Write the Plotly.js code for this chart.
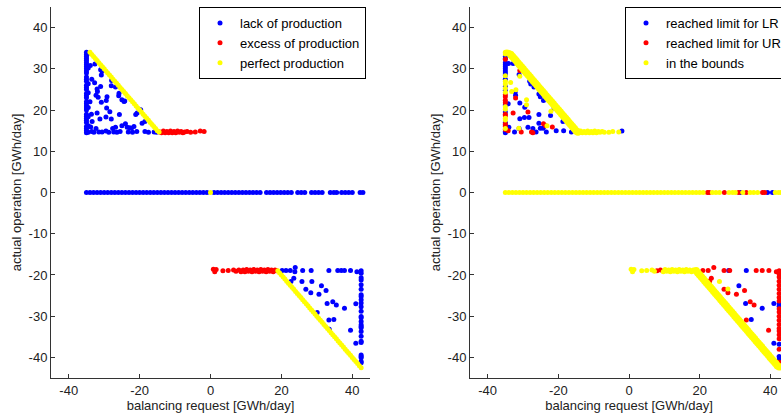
<!DOCTYPE html>
<html>
<head>
<meta charset="utf-8">
<script src="https://cdn.plot.ly/plotly-3.0.1.min.js"></script>
<style>
html, body { margin: 0; padding: 0; overflow: hidden; background: #fff; }
#chart { width: 800px; height: 413px; }
</style>
</head>
<body>
<div id="chart"></div>
<script>
// ---------- tick labels ----------
const xTickVals = [-40, -20, 0, 20, 40];
const xTickText = ['-40', '-20', '0', '20', '40'];
const yTickVals = [-40, -30, -20, -10, 0, 10, 20, 30, 40];
const yTickText = ['-40', '-30', '-20', '-10', '0', '10', '20', '30', '40'];

// ---------- series names ----------
const leftNames = ['lack of production', 'excess of production', 'perfect production'];
const rightNames = ['reached limit for LR', 'reached limit for UR', 'in the bounds'];

// ======== LEFT PANEL : [balancing request, actual operation] ========
// lack of production (blue)
const lackZero = [
  [-35,0],[-34,0],[-33,0],[-32,0],[-31,0],[-30,0],[-29,0],[-28,0],[-27,0],[-26,0],
  [-25,0],[-24,0],[-23,0],[-22,0],[-21,0],[-20,0],[-19,0],[-18,0],[-17,0],[-16,0],
  [-15,0],[-14,0],[-13,0],[-12,0],[-11,0],[-10,0],[-9,0],[-8,0],[-7,0],[-6,0],
  [-5,0],[-4,0],[-3,0],[-2,0],[-1,0],[1,0],[2,0],[3,0],[4,0],[5,0],
  [6,0],[7,0],[8,0],[9,0],[10,0],[11,0],[12,0],[13,0],[14,0],[15.8,0],
  [16.8,0],[17.8,0],[18.8,0],[19.8,0],[20.8,0],[21.8,0],[22.8,0],[24.6,0],[25.6,0],[26.6,0],
  [28.5,0],[29.5,0],[30.5,0],[31.5,0],[33.8,0],[34.8,0],[35.6,0],[37,0],[38,0],[39,0],
  [40,0],[42.2,0],[43,0]
];
const lackUpperColumn = [
  [-35,34],[-35,33.5],[-35,33],[-35,32.5],[-35,32],[-35,31.5],[-35,31],[-35,30.5],[-35,30],[-35,29.5],
  [-35,29],[-35,28],[-35,27.5],[-35,27],[-35,26],[-35,25.5],[-35,25],[-35,24],[-35,23.5],[-35,23],
  [-35,22],[-35,21.5],[-35,21],[-35,20.5],[-35,20],[-35,19],[-35,18.5],[-35,18],[-35,17.5],[-35,17],
  [-35,16],[-35,15.5],[-35,15],[-35,14.5],[-34.5,33.8],[-34.5,30.2],[-34.5,26.4],[-34.5,24.2],[-34.5,20.6],[-34.5,18.4],
  [-34.5,16.2]
];
const lackUpperScatter = [
  [-33.9,30.8],[-32.6,31.2],[-31,29.8],[-30.6,29.4],[-30.8,28.5],[-32.7,26.6],[-31,25.7],[-32,25.1],[-31.9,24.5],[-32.3,23.6],
  [-31.7,23.1],[-29.2,23.2],[-29.4,22.3],[-30.8,21.9],[-29.3,20.5],[-32,19.3],[-28.4,19.6],[-31.2,17.8],[-29.5,18.3],[-27.9,27.2],
  [-28,25.9],[-26.8,25.6],[-25.9,23.5],[-25,22.5],[-24.2,22.2],[-25.7,18.9],[-28,17.8],[-27.6,15.5],[-26.8,15.8],[-25,16.2],
  [-24,16.7],[-23.5,15.8],[-22.3,15.6],[-21.6,16],[-21.1,18.9],[-20.7,19.3],[-19.7,20.1],[-18.5,17.2],[-32.3,15.5],[-33.8,15.9],
  [-33.4,17.2],[-33.6,19],[-34,22],[-33.5,27.5],[-25.8,24.1],[-24.4,22.1],[-19.3,16.8],[-22.8,15.7]
];
const lackUpperBottom = [
  [-34.5,14.6],[-33.5,14.8],[-32.9,14.6],[-31.5,14.7],[-30.6,14.7],[-29.5,14.9],[-28.7,14.6],[-27.3,14.7],[-26.4,14.6],[-25.5,14.8],
  [-23.2,14.7],[-22,14.6],[-20.8,14.8],[-18.5,14.8],[-17.5,14.6],[-15.9,14.7],[-15.2,14.6]
];
const lackLowerScatter = [
  [20.2,-18.9],[21.3,-18.9],[22.5,-18.9],[23.8,-19.2],[23.9,-18.2],[26,-18.9],[28.4,-18.9],[33.4,-18.9],[35.9,-18.9],[36.9,-18.9],
  [37.8,-18.9],[39.5,-18.9],[41.3,-19.2],[23.5,-20.8],[22.7,-21.6],[25.8,-21.6],[28.6,-21.6],[26.9,-23.5],[28.3,-24.3],[31.3,-22.6],
  [30.6,-24.7],[32.6,-23.8],[32.9,-26.9],[34.5,-26.5],[35.5,-27.3],[37.8,-28.1],[41,-27],[30.1,-29.1],[33.4,-30.9],[34.8,-30.8],
  [39.5,-33.4],[41,-36.6],[33.5,-33.2]
];
const lackLowerColumn = [
  [42.5,-19],[42.5,-19.6],[42.5,-20.7],[42.5,-21.2],[42.5,-22.4],[42.5,-23.5],[42.5,-24.8],[42.5,-25.2],[42.5,-26],[42.5,-26.8],
  [42.5,-27.7],[42.5,-28.8],[42.5,-30.1],[42.5,-30.4],[42.5,-31.3],[42.5,-32.1],[42.5,-32.5],[42.5,-32.8],[42.5,-33.7],[42.5,-34.9],
  [42.5,-36.1],[42.5,-36.4],[42.5,-39.4],[42.5,-39.8],[42.5,-40.1],[42.5,-41],[42.5,-41.3]
];
// excess of production (red)
const excessUpper = [
  [-14.3,14.7],[-13.8,14.5],[-13.3,14.9],[-12.8,14.5],[-12.3,14.8],[-11.8,14.5],[-11.3,14.9],[-10.8,14.5],[-10.3,14.8],[-9.8,14.5],
  [-9.3,14.9],[-8.8,14.6],[-8.3,14.8],[-7.8,14.5],[-7.3,14.7],[-6.6,14.8],[-5.6,14.6],[-4.3,14.7],[-2.9,14.9],[-1.8,14.8]
];
const excessLower = [
  [0.8,-18.6],[1.2,-19.2],[1.6,-18.7],[3.5,-19],[5,-18.9],[6.5,-18.8],[7.2,-19.1],[8,-18.8],[8.6,-19.2],[9.2,-18.8],
  [9.7,-19.2],[10.2,-18.7],[10.7,-19.1],[11.2,-18.8],[11.7,-19.2],[12.2,-18.7],[12.7,-19.1],[13.2,-18.8],[13.7,-19.2],[14.2,-18.7],
  [14.7,-19.1],[15.2,-18.8],[15.7,-19.2],[16.2,-18.7],[16.7,-19.1],[17.2,-18.8],[17.7,-19.2],[18.2,-18.8],[18.7,-19]
];
// perfect production (yellow)
const perfectUpper = [
  [-34,34],[-33.5,33.5],[-33,33],[-32.5,32.5],[-32,32],[-31.5,31.5],[-31,31],[-30.5,30.5],[-30,30],[-29.5,29.5],
  [-29,29],[-28.5,28.5],[-28,28],[-27.5,27.5],[-27,27],[-26.5,26.5],[-26,26],[-25.5,25.5],[-25,25],[-24.5,24.5],
  [-24,24],[-23.5,23.5],[-23,23],[-22.5,22.5],[-22,22],[-21.5,21.5],[-21,21],[-20.5,20.5],[-20,20],[-19.5,19.5],
  [-19,19],[-18.5,18.5],[-18,18],[-17.5,17.5],[-17,17],[-16.5,16.5],[-16,16],[-15.5,15.5],[-15,15],[-14.5,14.7]
];
const perfectZero = [[0,0]];
const perfectLower = [
  [19,-19],[19.5,-19.5],[20,-20],[20.5,-20.5],[21,-21],[21.5,-21.5],[22,-22],[22.5,-22.5],[23,-23],[23.5,-23.5],
  [24,-24],[24.5,-24.5],[25,-25],[25.5,-25.5],[26,-26],[26.5,-26.5],[27,-27],[27.5,-27.5],[28,-28],[28.5,-28.5],
  [29,-29],[29.5,-29.5],[30,-30],[30.5,-30.5],[31,-31],[31.5,-31.5],[32,-32],[32.5,-32.5],[33,-33],[33.5,-33.5],
  [34,-34],[34.5,-34.5],[35,-35],[35.5,-35.5],[36,-36],[36.5,-36.5],[37,-37],[37.5,-37.5],[38,-38],[38.5,-38.5],
  [39,-39],[39.5,-39.5],[40,-40],[40.5,-40.5],[41,-41],[41.5,-41.5],[42,-42],[42.5,-42.5]
];

// ======== RIGHT PANEL ========
// reached limit for LR (blue)
const lrUpper = [
  [-35,33],[-35,32.5],[-35,31.5],[-35,31],[-35,30.5],[-35,30],[-35,29.5],[-35,29],[-35,28.5],[-35,27.5],
  [-35,25.7],[-35,24.8],[-35,21.2],[-35,19.5],[-35,17],[-35,16.4],[-35,14.8],[-35,14.5],
  [-32.8,31.3],[-34.1,31.3],[-31.1,28.6],[-32.2,24.4],[-32.1,23.6],[-30.9,21.7],[-34.2,21.5],[-29.5,20.7],[-28.1,27],[-27.8,26.3],
  [-26.9,25.6],[-25.5,23.9],[-25.1,23.2],[-24.2,22.3],[-30.9,17.9],[-29.6,18.2],[-28.3,18.2],[-25.5,18.9],[-22.2,18.7],[-21.2,20.5],
  [-18.7,17.2],[-34,15.8],[-32.4,14.7],[-31.1,15.5],[-28.6,15.8],[-27.2,15.5],[-26.3,14.7],[-25.5,16.8],[-25.1,15.6],[-24.3,15.6],
  [-23.4,14.7],[-20.6,15],[-18.5,15],[-16.3,14.7],[-2,14.9]
];
const lrZero = [[31.6,0],[39.2,0],[40.6,0]];
const lrLower = [
  [28.2,-18.9],[33.2,-18.9],[31.1,-22.6],[33,-26.9],[37.7,-28.1],[34.6,-30.8],[41,-26.9],[41,-36.6],
  [42.5,-19.3],[42.5,-27],[42.5,-27.6],[42.5,-36.8],[42.5,-39.8],[42.5,-40.6]
];
// reached limit for UR (red)
const urUpper = [
  [-35,32.3],[-35,23.7],[-35,23.2],[-35,22.4],[-35,21.8],[-35,19],[-35,18.6],[-35,16.6],[-35,16],[-35,15.3],
  [-30.9,29.6],[-32.1,22.9],[-32.8,19.3],[-28.6,19.5],[-30.5,14.7],[-27.6,14.7],[-24.2,16.7],[-23.6,16.2],[-21.7,15.9],[-34.2,15],
  [-27.2,14.5]
];
const urZero = [[22.2,0],[22.7,0],[27,0],[31,0],[33.2,0],[37.8,0],[38.4,0]];
const urLower = [
  [7.9,-19],[8.9,-18.8],[20.9,-18.9],[22.4,-18.9],[24,-18.2],[26.9,-18.9],[28.5,-18.9],[36,-18.9],[37.7,-18.9],[39.6,-18.9],
  [41.7,-19.2],[23.3,-20.8],[22.8,-21.5],[26.9,-23.5],[28,-24.3],[30.4,-24.7],[32.7,-23.8],[34.3,-26.5],[35.4,-27.3],[33.2,-30.9],
  [39.5,-33.4],
  [42.5,-19],[42.5,-19.8],[42.5,-20.5],[42.5,-21.5],[42.5,-22.5],[42.5,-23.5],[42.5,-24.5],[42.5,-25.5],[42.5,-26.3],[42.5,-28.2],
  [42.5,-29],[42.5,-30],[42.5,-31],[42.5,-32],[42.5,-33],[42.5,-33.6],[42.5,-34.5],[42.5,-35.5],[42.5,-38],[42.5,-41.2]
];
// in the bounds (yellow)
const boundsUpper = [
  [-35,34],[-34.6,34.1],[-34.2,34],[-33.8,33.9],[-35,33.6],[-35,28.3],[-35,27],[-35,26.3],[-35,25.3],[-35,24.3],
  [-35,20.8],[-35,20.2],[-35,18],[-35,17.6],[-35,15.5],
  [-33.5,26.7],[-33.2,24.5],[-32,24.9],[-30.9,28.2],[-29,22.5],[-29,21.3],[-22.1,19.7],[-23.2,16.2],[-31.2,15.6],
  [-14.2,14.5],[-13.7,14.9],[-13.2,14.5],[-12.7,14.8],[-12.2,14.5],[-11.7,14.9],[-11.2,14.5],[-10.7,14.8],[-10.2,14.5],[-9.7,14.9],
  [-9.2,14.5],[-8.7,14.8],[-8.2,14.6],[-7.6,14.8],[-7,14.6],[-5.7,14.6],[-4.6,14.8],[-2.9,14.7]
];
const boundsZero = [
  [-35,0],[-34,0],[-33,0],[-32,0],[-31,0],[-30,0],[-29,0],[-28,0],[-27,0],[-26,0],
  [-25,0],[-24,0],[-23,0],[-22,0],[-21,0],[-20,0],[-19,0],[-18,0],[-17,0],[-16,0],
  [-15,0],[-14,0],[-13,0],[-12,0],[-11,0],[-10,0],[-9,0],[-8,0],[-7,0],[-6,0],
  [-5,0],[-4,0],[-3,0],[-2,0],[-1,0],[0,0],[1,0],[2,0],[3,0],[4,0],
  [5,0],[6,0],[7,0],[8,0],[9,0],[10,0],[11,0],[12,0],[13,0],[14,0],
  [15,0],[16,0],[17,0],[18,0],[19,0],[20,0],[21,0],[23.6,0],[24.6,0],[25.6,0],
  [28.3,0],[29.3,0],[30.1,0],[32.2,0],[34.3,0],[35.3,0],[36.4,0],[41.4,0],[42.3,0],[43,0]
];
const boundsLower = [
  [0.6,-18.6],[1,-19.2],[1.4,-18.7],[3.6,-19],[5,-18.9],[6.5,-18.8],[7.2,-19.1],[9.7,-19.2],[10.2,-18.7],[10.7,-19.1],
  [11.2,-18.8],[11.7,-19.2],[12.2,-18.7],[12.7,-19.1],[13.2,-18.8],[13.7,-19.2],[14.2,-18.7],[14.7,-19.1],[15.2,-18.8],[15.7,-19.2],
  [16.2,-18.7],[16.7,-19.1],[17.2,-18.8],[17.7,-19.2],[18.2,-18.8],[18.7,-19],
  [25.6,-21.6],[28,-23.4]
];
// in the bounds, points along the two diagonals (dense band)
const boundsDiagUpper = [
  [-33.5,33.5],[-33,33],[-32.5,32.5],[-32,32],[-31.5,31.5],[-31,31],[-30.5,30.5],[-30,30],[-29.5,29.5],
  [-29,29],[-28.5,28.5],[-28,28],[-27.5,27.5],[-27,27],[-26.5,26.5],[-26,26],[-25.5,25.5],[-25,25],[-24.5,24.5],
  [-24,24],[-23.5,23.5],[-23,23],[-22.5,22.5],[-22,22],[-21.5,21.5],[-21,21],[-20.5,20.5],[-20,20],[-19.5,19.5],
  [-19,19],[-18.5,18.5],[-18,18],[-17.5,17.5],[-17,17],[-16.5,16.5],[-16,16],[-15.5,15.5],[-15,15],[-14.5,14.7]
];
const boundsDiagLower = [
  [19,-19],[19.5,-19.5],[20,-20],[20.5,-20.5],[21,-21],[21.5,-21.5],[22,-22],[22.5,-22.5],[23,-23],[23.5,-23.5],
  [24,-24],[24.5,-24.5],[25,-25],[25.5,-25.5],[26,-26],[26.5,-26.5],[27,-27],[27.5,-27.5],[28,-28],[28.5,-28.5],
  [29,-29],[29.5,-29.5],[30,-30],[30.5,-30.5],[31,-31],[31.5,-31.5],[32,-32],[32.5,-32.5],[33,-33],[33.5,-33.5],
  [34,-34],[34.5,-34.5],[35,-35],[35.5,-35.5],[36,-36],[36.5,-36.5],[37,-37],[37.5,-37.5],[38,-38],[38.5,-38.5],
  [39,-39],[39.5,-39.5],[40,-40],[40.5,-40.5],[41,-41],[41.5,-41.5],[42,-42],[42.5,-42.3]
];

// ---------- styling ----------
const FONT = 'Liberation Sans, Arial, Helvetica, sans-serif';
const BLUE = '#0000ff', RED = '#ff0000', YELLOW = '#ffff00';
const MSIZE = 5;

function xs(groups) { return [].concat(...groups).map(p => p[0]); }
function ys(groups) { return [].concat(...groups).map(p => p[1]); }

function mk(groups, name, color, xa, ya, leg, size, showInLegend) {
  return {
    type: 'scatter', mode: 'markers', name: name,
    x: xs(groups), y: ys(groups),
    xaxis: xa, yaxis: ya, legend: leg, legendgroup: leg + name,
    showlegend: showInLegend !== false,
    marker: { color: color, size: size || MSIZE, line: { width: 0 } },
    cliponaxis: true, hoverinfo: 'skip'
  };
}

const traces = [
  mk([lackZero, lackUpperColumn, lackUpperScatter, lackUpperBottom, lackLowerScatter, lackLowerColumn], leftNames[0], BLUE, 'x', 'y', 'legend'),
  mk([excessUpper, excessLower], leftNames[1], RED, 'x', 'y', 'legend'),
  mk([perfectUpper, perfectZero, perfectLower], leftNames[2], YELLOW, 'x', 'y', 'legend'),
  mk([lrUpper, lrZero, lrLower], rightNames[0], BLUE, 'x2', 'y2', 'legend2'),
  mk([urUpper, urZero, urLower], rightNames[1], RED, 'x2', 'y2', 'legend2'),
  mk([boundsUpper, boundsZero, boundsLower], rightNames[2], YELLOW, 'x2', 'y2', 'legend2'),
  mk([boundsDiagUpper, boundsDiagLower], rightNames[2], YELLOW, 'x2', 'y2', 'legend2', 7.5, false)
];

const W = 800, H = 413;
const yDom = [1 - 378 / H, 1 - 7 / H];
const FS = 13;

function xAxis(dom, anchor) {
  return {
    domain: dom, anchor: anchor, range: [-45, 45],
    tickmode: 'array', tickvals: xTickVals, ticktext: xTickText,
    ticks: 'inside', ticklen: 4, tickcolor: '#333', tickwidth: 1,
    showline: true, linecolor: '#333', linewidth: 1, mirror: false,
    showgrid: false, zeroline: false,
    tickfont: { family: FONT, size: FS, color: '#222' },
    title: { text: 'balancing request [GWh/day]', font: { family: FONT, size: FS, color: '#222' }, standoff: 4 },
    fixedrange: true
  };
}
function yAxis(anchor) {
  return {
    domain: yDom, anchor: anchor, range: [-45, 45],
    tickmode: 'array', tickvals: yTickVals, ticktext: yTickText,
    ticks: 'inside', ticklen: 4, tickcolor: '#333', tickwidth: 1,
    showline: true, linecolor: '#333', linewidth: 1, mirror: false,
    showgrid: false, zeroline: false,
    tickfont: { family: FONT, size: FS, color: '#222' },
    title: { text: 'actual operation [GWh/day]', font: { family: FONT, size: FS, color: '#222' }, standoff: 4 },
    fixedrange: true
  };
}
function legendAt(xpx) {
  return {
    x: xpx / W, y: 1 - 7 / H, xanchor: 'left', yanchor: 'top',
    bgcolor: '#ffffff', bordercolor: '#000000', borderwidth: 1,
    font: { family: FONT, size: FS, color: '#000' },
    traceorder: 'normal', itemclick: false, itemdoubleclick: false
  };
}

const layout = {
  width: W, height: H,
  margin: { l: 0, r: 0, t: 0, b: 0, pad: 0 },
  paper_bgcolor: '#ffffff', plot_bgcolor: '#ffffff',
  showlegend: true,
  hovermode: false,
  xaxis: xAxis([51 / W, 370 / W], 'y'),
  yaxis: yAxis('x'),
  xaxis2: xAxis([470 / W, 788 / W], 'y2'),
  yaxis2: yAxis('x2'),
  legend: legendAt(199),
  legend2: legendAt(625)
};

Plotly.newPlot('chart', traces, layout, { staticPlot: true, displayModeBar: false });
</script>
</body>
</html>
